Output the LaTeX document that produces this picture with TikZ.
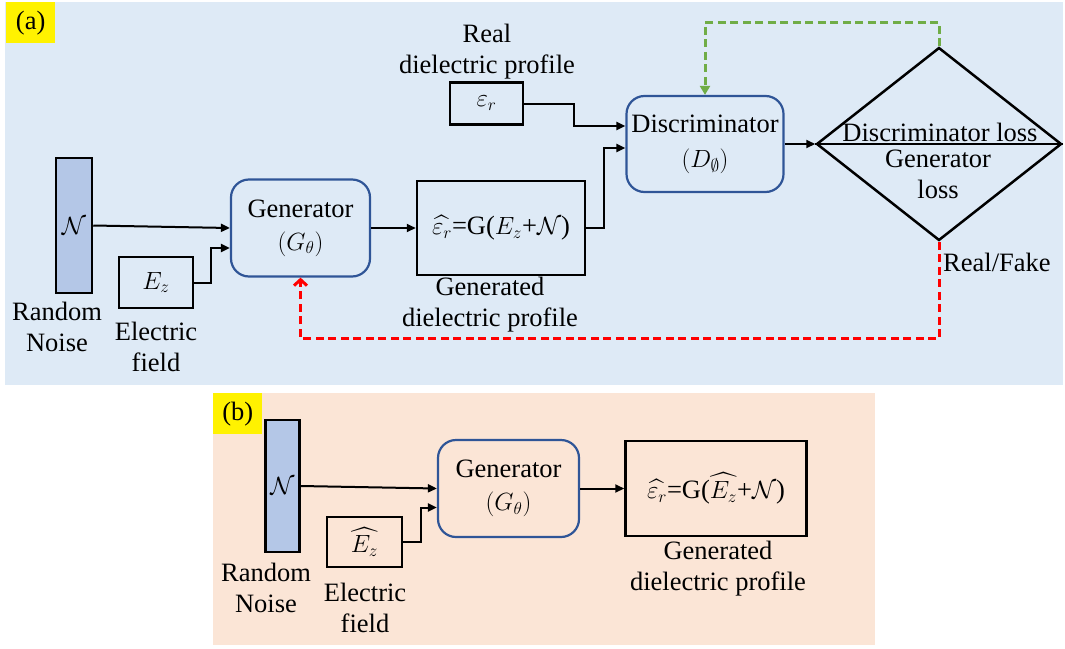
\documentclass[tikz,border=0pt]{standalone}
\usepackage{amsmath}
\usepackage{amssymb}
\usepackage{fontspec}
\setmainfont{Liberation Serif}
\usepackage{xcolor}
\usetikzlibrary{arrows.meta, positioning, shapes.geometric}

\definecolor{panelA}{HTML}{DEEAF6}
\definecolor{panelB}{HTML}{FBE5D6}
\definecolor{noiseblue}{HTML}{B4C7E7}
\definecolor{netblue}{HTML}{2F5597}
\definecolor{lossgreen}{HTML}{70AD47}

\begin{document}
\begin{tikzpicture}[
  x=1pt, y=-1pt,
  font=\fontsize{26.5}{31}\selectfont,
  >={Triangle[length=9pt,width=8pt]},
  flow/.style={->, line width=2pt},
  fback/.style={line width=3pt, dash pattern=on 8pt off 4.5pt},
  blk/.style={rectangle, draw, line width=2.5pt, inner sep=0pt, align=center},
  noisebar/.style={blk, fill=noiseblue},
  netbox/.style={rectangle, draw=netblue, line width=2.2pt,
                 rounded corners=18pt, inner sep=0pt, align=center},
  lbl/.style={inner sep=0pt, align=center},
  tag/.style={rectangle, fill=yellow, anchor=north west, inner sep=0pt,
              minimum width=49pt, minimum height=41pt}
]
\useasboundingbox (0,0) rectangle (1065,648);

% Panel backgrounds
\fill[panelA] (5,2) rectangle (1063,385);
\fill[panelB] (213,393) rectangle (875,645);
\node[tag] (tagA) at (6,2) {(a)};
\node[tag] (tagB) at (213,393) {(b)};

% ---------- (a) training ----------
\node[noisebar, minimum width=36pt, minimum height=135pt]
    (noiseA) at (74,225.5) {$\mathcal{N}$};
\node[lbl] (noiseAlbl) at (57,327) {Random\\Noise};

\node[blk, minimum width=74pt, minimum height=51pt]
    (ezA) at (156,282.5) {$E_z$};
\node[lbl] (ezAlbl) at (156,347) {Electric\\field};

\node[netbox, minimum width=139pt, minimum height=97pt]
    (genA) at (300.5,228) {Generator\\[2pt]$(G_\theta)$};

\node[blk, minimum width=168pt, minimum height=94pt]
    (epsA) at (501,228) {$\widehat{\varepsilon_r}$=G($E_z$+$\mathcal{N}$)};
\node[lbl] (epsAlbl) at (490,305) {Generated\\dielectric profile};

\node[blk, minimum width=73pt, minimum height=42pt]
    (epsR) at (486.5,103.5) {$\varepsilon_r$};
\node[lbl] (epsRlbl) at (487,52) {Real\\dielectric profile};

\node[netbox, minimum width=157pt, minimum height=96pt]
    (disc) at (705,144) {Discriminator\\[4pt]$(D_{\emptyset})$};

% Loss diamond
\node[diamond, draw, line width=2.5pt, inner sep=0pt,
      minimum width=245pt, minimum height=193pt]
    (loss) at (939,144) {};
\draw[line width=2.5pt] (loss.west) -- (loss.east);
\node[lbl, anchor=base] (lossD) at (940,141) {Discriminator loss};
\node[lbl] (lossG) at (938,174) {Generator\\loss};
\node[lbl, anchor=west] (rf) at (943,262) {Real/Fake};

% Forward connectors
\draw[flow] (noiseA.east) -- (genA.west);
\draw[flow] (ezA.east) -- ++(17,0) |- ([yshift=-20pt]genA.west);
\draw[flow] (genA.east) -- (epsA.west);
\draw[flow] (epsA.east) -- ++(18,0) |- ([yshift=-4pt]disc.west);
\draw[flow] (epsR.east) -- ++(50,0) |- ([yshift=18pt]disc.west);
\draw[flow] (disc.east) -- (loss.west);

% Feedback loops
\draw[fback, lossgreen, -{Triangle[length=9pt,width=10pt]}]
    (loss.north) -- ++(0,-24) -| (disc.north);
\draw[fback, red, -{Straight Barb[length=6pt,width=13pt]}]
    (loss.south) -- ++(0,97) -| (genA.south);

% ---------- (b) inference ----------
\node[noisebar, minimum width=34pt, minimum height=132pt]
    (noiseB) at (282.5,486) {$\mathcal{N}$};
\node[lbl] (noiseBlbl) at (266,588) {Random\\Noise};

\node[blk, minimum width=75pt, minimum height=50pt]
    (ezB) at (364.5,542) {$\widehat{E_z}$};
\node[lbl] (ezBlbl) at (365,608) {Electric\\field};

\node[netbox, minimum width=141pt, minimum height=97pt]
    (genB) at (508.5,488.5) {Generator\\[2pt]$(G_\theta)$};

\node[blk, minimum width=181pt, minimum height=95pt]
    (epsB) at (716,488.5) {$\widehat{\varepsilon_r}$=G($\widehat{E_z}$+$\mathcal{N}$)};
\node[lbl] (epsBlbl) at (718,569) {Generated\\dielectric profile};

\draw[flow] (noiseB.east) -- (genB.west);
\draw[flow] (ezB.east) -- ++(18,0) |- ([yshift=-19pt]genB.west);
\draw[flow] (genB.east) -- (epsB.west);

\end{tikzpicture}
\end{document}
